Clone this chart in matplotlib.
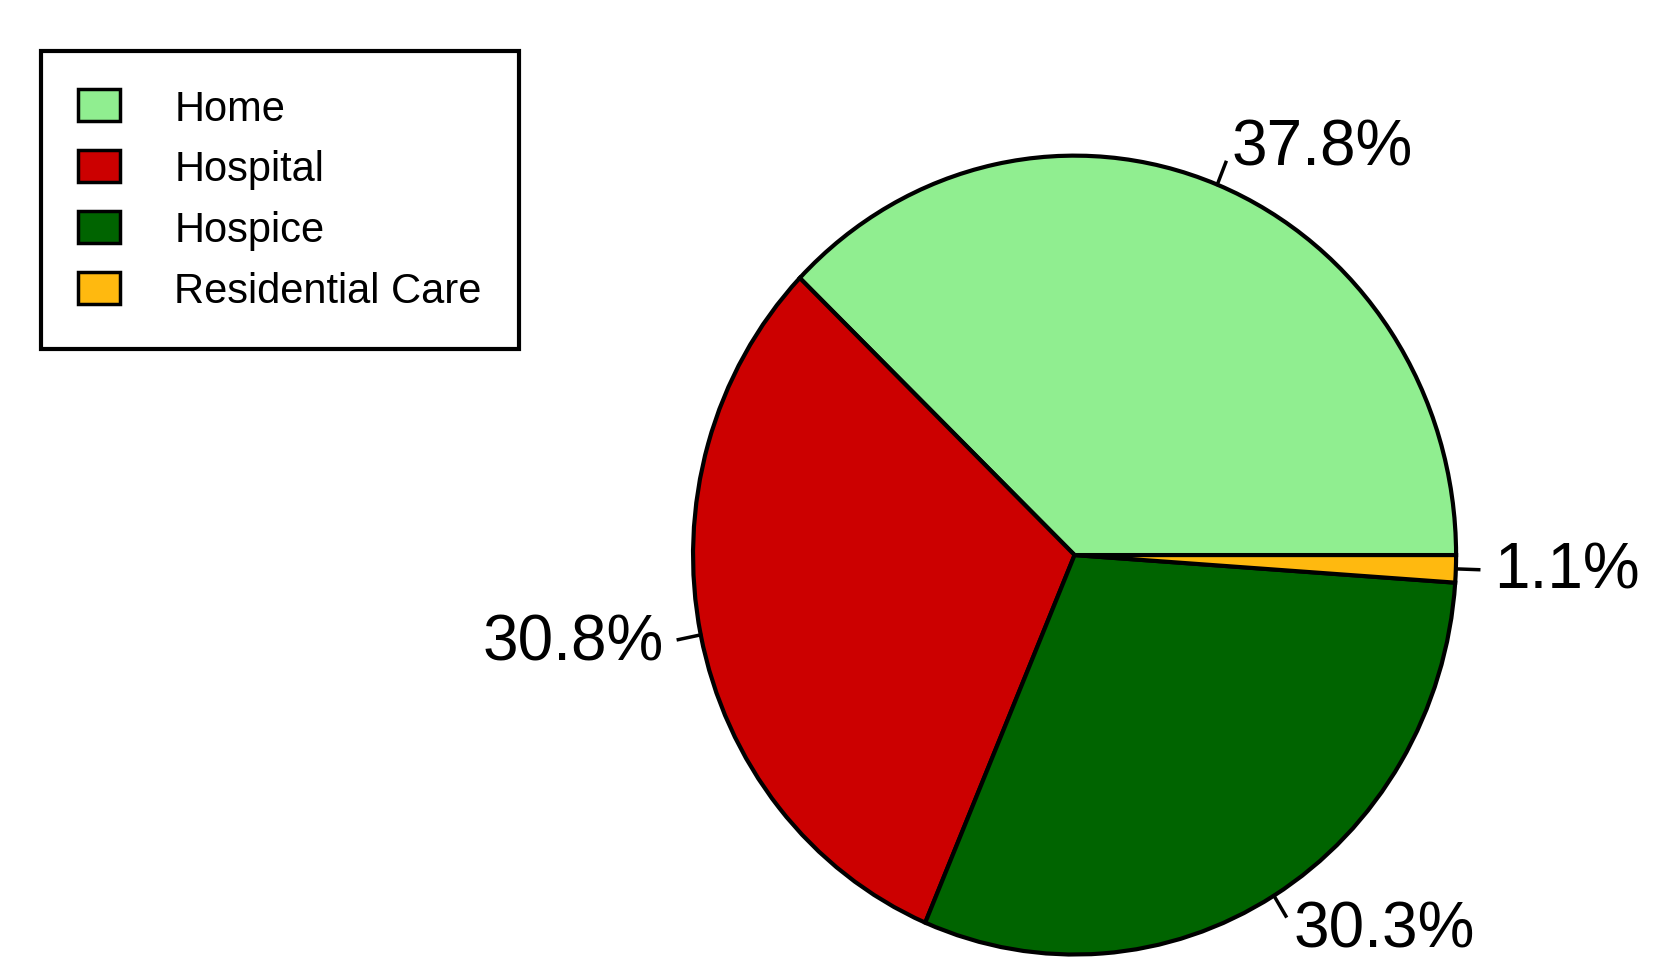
import numpy as np
import matplotlib
matplotlib.use("Agg")
import matplotlib.pyplot as plt

plt.rcParams['font.family'] = ['Liberation Sans', 'DejaVu Sans']

# Données
categories = ["Home", "Hospital", "Hospice", "Residential Care"]
valeurs = [37.8, 30.8, 30.3, 1.1]
couleurs = ["#90EE90", "#CC0000", "#006400", "#FFB90F"]

fig = plt.figure(figsize=(16.66, 9.79), dpi=100)
ax = fig.add_axes([0.416, 0.024, 0.458, 0.816])

wedges, _ = ax.pie(valeurs, colors=couleurs, startangle=0, counterclock=True,
                   wedgeprops=dict(edgecolor="black", linewidth=3))
ax.set_aspect("auto")

# Étiquettes extérieures avec petits traits
total = sum(valeurs)
cumul = 0
for v in valeurs:
    milieu = np.deg2rad(360 * (cumul + v / 2) / total)
    cumul += v
    c, s = np.cos(milieu), np.sin(milieu)
    ax.plot([1.0 * c, 1.06 * c], [1.0 * s, 1.06 * s], color="black", lw=2.5, clip_on=False)
    ha = "left" if c > 0.05 else ("right" if c < -0.05 else "center")
    ax.text(1.1 * c, 1.1 * s, "{0}%".format(v), ha=ha, va="center", fontsize=46)

ax.set_xlim(-1, 1)
ax.set_ylim(-1, 1)

leg = fig.legend(wedges, categories, loc="upper left", bbox_to_anchor=(0.012, 0.968),
                 fontsize=30, frameon=True, fancybox=False, edgecolor="black",
                 framealpha=1, handlelength=1.0, handleheight=0.8, handletextpad=1.3,
                 labelspacing=0.5, borderpad=0.9)
leg.get_frame().set_linewidth(3)
for h in leg.legend_handles:
    h.set_linewidth(2.5)

fig.savefig("out.png", dpi=100)
